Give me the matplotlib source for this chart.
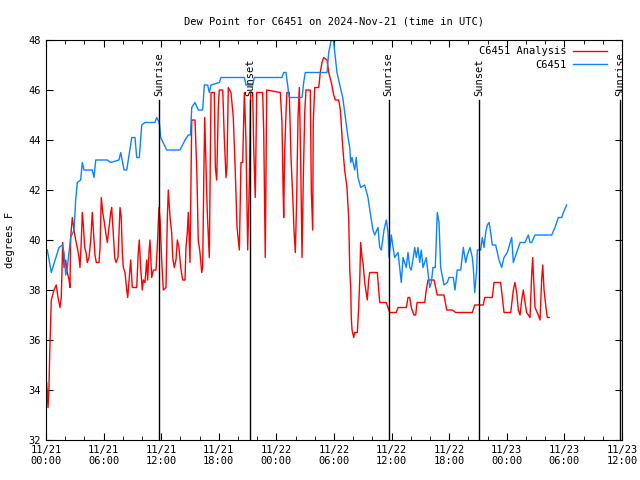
import matplotlib
matplotlib.use("Agg")
import matplotlib.pyplot as plt
import matplotlib.dates as mdates
import pandas as pd

plt.rcParams['font.family'] = 'DejaVu Sans Mono'
plt.rcParams['font.size'] = 7.5

start = pd.Timestamp("2024-11-21 00:00")

# hours after start, dew point (F)
ana_h = [0.07, 0.21, 0.31, 0.39, 0.49, 0.55, 0.83, 1.07, 1.25, 1.46, 1.59, 1.74, 1.88, 2.05, 2.22, 2.40,
         2.50, 2.57, 2.74, 2.92, 3.09, 3.26, 3.44, 3.54, 3.68, 3.78, 3.89, 4.03, 4.17, 4.30, 4.48, 4.66,
         4.82, 5.00, 5.10, 5.24, 5.52, 5.63, 5.76, 5.91, 6.04, 6.22, 6.39, 6.56, 6.74, 6.84, 7.01, 7.16,
         7.29, 7.50, 7.71, 7.84, 7.95, 8.05, 8.23, 8.41, 8.51, 8.68, 8.82, 8.99, 9.45, 9.61, 9.72, 9.86,
         10.03, 10.14, 10.31, 10.49, 10.59, 10.73, 10.83, 11.01, 11.18, 11.46, 11.59, 11.77, 11.88, 12.05,
         12.22, 12.50, 12.64, 12.74, 12.92, 13.09, 13.20, 13.36, 13.54, 13.68, 13.85, 14.03, 14.24, 14.48,
         14.58, 14.72, 14.82, 15.00, 15.18, 15.52, 15.70, 15.86, 16.04, 16.22, 16.32, 16.43, 16.53, 16.67,
         16.80, 17.01, 17.19, 17.53, 17.64, 17.78, 17.95, 18.05, 18.41, 18.57, 18.75, 18.85, 18.99, 19.27,
         19.51, 19.72, 19.90, 20.03, 20.14, 20.31, 20.49, 20.66, 20.83, 21.01, 21.18, 21.32, 21.53, 21.64,
         21.80, 21.95, 22.57, 22.68, 22.78, 22.84, 22.99, 24.41, 24.58, 24.69, 24.76, 24.86, 25.00, 25.10,
         25.34, 25.52, 25.73, 25.83, 25.97, 26.11, 26.25, 26.39, 26.53, 26.67, 26.80, 26.95, 27.08, 27.53,
         27.64, 27.78, 27.84, 27.99, 28.41, 28.57, 28.75, 28.93, 29.27, 29.45, 29.72, 29.97, 30.14, 30.49,
         30.66, 30.91, 31.11, 31.35, 31.53, 31.64, 31.74, 31.80, 31.88, 32.05, 32.16, 32.43, 32.57, 32.68,
         32.78, 32.92, 33.02, 33.20, 33.36, 33.47, 33.61, 33.72, 34.51, 34.66, 34.76, 35.45, 35.63, 35.80,
         36.49, 36.67, 37.53, 37.71, 37.89, 38.05, 38.33, 38.51, 38.65, 39.45, 39.61, 39.79, 40.42, 40.59,
         40.76, 41.46, 41.74, 42.32, 42.68, 44.41, 44.66, 45.55, 45.70, 46.49, 46.67, 47.36, 47.53, 47.71,
         48.41, 48.68, 48.85, 49.03, 49.20, 49.38, 49.55, 49.72, 49.90, 50.07, 50.24, 50.42, 50.59, 50.70,
         50.76, 50.94, 51.28, 51.46, 51.63, 51.74, 51.88, 52.08, 52.22, 52.43]
ana_v = [34.3, 33.3, 34.1, 35.5, 36.9, 37.6, 38.0, 38.2, 37.7, 37.3, 37.7, 39.9, 38.9, 39.2, 38.7, 38.4,
         38.1, 40.1, 40.9, 40.4, 40.0, 39.7, 39.3, 38.9, 40.0, 41.1, 40.6, 39.7, 39.5, 39.1, 39.3, 40.0,
         41.1, 40.0, 39.4, 39.1, 39.1, 39.7, 41.7, 41.1, 40.8, 40.3, 39.9, 40.5, 41.1, 41.3, 40.2, 39.3,
         39.1, 39.3, 41.3, 40.9, 39.5, 38.9, 38.7, 38.0, 37.7, 38.5, 39.2, 38.1, 38.1, 39.5, 40.0, 38.9,
         38.0, 38.4, 38.3, 39.2, 38.4, 39.5, 40.0, 38.5, 38.8, 38.8, 39.7, 41.3, 40.8, 39.2,
         38.0, 38.1, 40.9, 42.0, 40.9, 40.3, 39.3, 38.9, 39.2, 40.0, 39.7, 38.9, 38.4, 38.4,
         39.7, 40.3, 41.1, 39.1, 44.8, 44.8, 42.9, 40.0, 39.5, 38.7, 38.9, 42.3, 44.9, 42.9,
         41.1, 39.3, 45.9, 45.9, 42.9, 42.4, 45.3, 46.0, 46.0, 44.1, 42.5, 42.9, 46.1, 45.9,
         44.9, 42.7, 40.5, 40.0, 39.6, 43.1, 43.1, 45.9, 44.0, 39.6, 42.3, 45.9, 45.9, 43.6,
         41.7, 45.9, 45.9, 44.3, 41.2, 39.3, 46.0, 45.9, 44.7, 42.2, 40.9, 43.5, 45.1, 45.9,
         45.9, 43.3, 41.5, 40.4, 39.5, 41.6, 44.9, 46.1, 43.1, 39.3, 42.4, 45.1, 46.0, 46.0,
         41.9, 40.4, 44.7, 46.1, 46.1, 46.7, 47.1, 47.3, 47.2, 46.7, 46.3, 45.8, 45.6, 45.6,
         45.2, 43.7, 42.8, 42.1, 40.9, 38.8, 38.1, 36.9, 36.4, 36.1, 36.3, 36.3, 37.3, 38.4,
         39.9, 39.3, 39.1, 38.3, 37.9, 37.6, 38.4, 38.7, 38.7, 38.0, 37.5, 37.5, 37.3, 37.1,
         37.1, 37.3, 37.3, 37.7, 37.7, 37.3, 37.0, 37.0, 37.5, 37.5, 38.0, 38.4, 38.4, 38.1,
         37.8, 37.8, 37.2, 37.2, 37.1, 37.1, 37.4, 37.4, 37.7, 37.7, 38.3, 38.3, 37.7, 37.1,
         37.1, 38.0, 38.3, 37.9, 37.2, 37.0, 37.6, 38.0, 37.5, 37.1, 37.0, 36.9, 38.6, 39.3,
         38.7, 37.3, 37.0, 36.8, 38.4, 39.0, 38.0, 37.3, 36.9, 36.9]

obs_h = [0.14, 0.55, 1.35, 1.70, 1.88, 2.05, 2.19, 2.57, 2.92, 3.09, 3.26, 3.61, 3.78, 3.96, 4.82, 5.00,
         5.18, 6.39, 6.74, 7.60, 7.78, 8.13, 8.41, 8.93, 9.27, 9.45, 9.72, 9.97, 10.31, 11.35, 11.53, 11.80,
         11.95, 12.57, 13.96, 14.48, 14.82, 15.05, 15.18, 15.52, 15.86, 16.32, 16.49, 16.84, 17.01, 17.19,
         18.05, 18.23, 20.66, 20.83, 21.53, 21.70, 24.58, 24.76, 25.00, 25.28, 25.34, 26.67, 26.84, 27.01,
         29.27, 29.45, 29.72, 29.84, 29.97, 30.31, 30.66, 30.91, 31.18, 31.46, 31.64, 31.74, 31.88, 32.16,
         32.32, 32.50, 32.78, 33.20, 33.54, 33.89, 34.06, 34.24, 34.58, 34.76, 34.93, 35.21, 35.45, 35.63,
         35.73, 35.97, 36.15, 36.32, 36.67, 36.84, 37.01, 37.19, 37.53, 37.71, 37.89, 38.05, 38.41, 38.57,
         38.75, 38.93, 39.09, 39.27, 39.61, 39.79, 39.97, 40.14, 40.31, 40.55, 40.76, 40.94, 41.11, 41.46,
         41.80, 41.98, 42.43, 42.60, 42.84, 43.20, 43.47, 43.72, 43.89, 44.17, 44.41, 44.51, 44.66, 44.86,
         44.93, 45.28, 45.45, 45.63, 45.80, 45.97, 46.15, 46.32, 46.49, 46.84, 47.19, 47.47, 47.71, 48.05,
         48.51, 48.68, 49.03, 49.38, 49.90, 50.24, 50.42, 50.59, 50.94, 52.68, 53.02, 53.36, 53.72, 53.89,
         54.24]
obs_v = [39.6, 38.7, 39.7, 39.8, 39.5, 38.6, 38.8, 40.1, 40.4, 41.6, 42.3, 42.4, 43.1, 42.8, 42.8, 42.5,
         43.2, 43.2, 43.1, 43.2, 43.5, 42.8, 42.8, 44.1, 44.1, 43.3, 43.3, 44.6, 44.7, 44.7, 44.9, 44.7,
         44.1, 43.6, 43.6, 44.0, 44.2, 44.2, 45.3, 45.5, 45.2, 45.2, 46.2, 46.2, 45.9, 46.2,
         46.3, 46.5, 46.5, 46.2, 46.2, 46.5, 46.5, 46.7, 46.7, 45.9, 45.7, 45.7, 46.3, 46.7,
         46.7, 47.5, 48.0, 48.1, 47.9, 46.7, 46.1, 45.7, 44.9, 44.1, 43.7, 43.1, 43.3, 42.8,
         43.3, 42.5, 42.1, 42.2, 41.7, 40.8, 40.4, 40.2, 40.5, 39.7, 39.6, 40.4, 40.8, 40.3,
         39.3, 40.2, 39.7, 39.3, 39.5, 38.9, 38.3, 39.3, 38.9, 39.5, 38.9, 38.8, 39.7, 39.3,
         39.7, 39.1, 39.6, 38.9, 39.3, 38.7, 38.1, 38.3, 38.9, 38.9, 41.1, 40.7, 38.9, 38.2,
         38.3, 38.5, 38.5, 38.0, 38.8, 38.8, 39.7, 39.1, 39.4, 39.7, 39.3, 38.9, 37.9, 38.8,
         39.6, 39.6, 40.1, 39.7, 40.3, 40.6, 40.7, 40.3, 39.8, 39.8, 39.2, 38.9, 39.3, 39.5,
         40.1, 39.1, 39.5, 39.9, 39.9, 40.2, 39.9, 39.9, 40.2, 40.2, 40.5, 40.9, 40.9, 41.1,
         41.4]

sun_h = [11.8, 21.25, 35.7, 45.1, 59.8]
sun_lbl = ["Sunrise", "Sunset", "Sunrise", "Sunset", "Sunrise"]

ana_t = [start + pd.Timedelta(hours=h) for h in ana_h]
obs_t = [start + pd.Timedelta(hours=h) for h in obs_h]
sun_t = [start + pd.Timedelta(hours=h) for h in sun_h]

fig = plt.figure(figsize=(6.4, 4.8), dpi=100)
ax = fig.add_axes([46/640, 40/480, 576/640, 400/480])

ax.plot(ana_t, ana_v, color='#ff0000', lw=1, label='C6451 Analysis')
ax.plot(obs_t, obs_v, color='#0a84ff', lw=1, label='C6451')

for t, s in zip(sun_t, sun_lbl):
    ax.plot([t, t], [32, 45.6], color='black', lw=1)
    ax.text(t, 45.75, s, rotation=90, ha='center', va='bottom', fontsize=7.5)

ax.set_xlim(start, start + pd.Timedelta(hours=60))
ax.set_ylim(32, 48)
ax.set_yticks(range(32, 49, 2))
ax.xaxis.set_major_locator(mdates.HourLocator(byhour=[0, 6, 12, 18]))
ax.xaxis.set_minor_locator(mdates.HourLocator(byhour=range(0, 24, 2)))
ax.xaxis.set_major_formatter(mdates.DateFormatter('%m/%d\n%H:%M'))
ax.tick_params(which='both', direction='in', top=True, right=True)
ax.tick_params(which='major', length=5)
ax.tick_params(which='minor', length=3)

ax.set_title('Dew Point for C6451 on 2024-Nov-21 (time in UTC)', fontsize=7.5, pad=11)
ax.set_ylabel('degrees F', labelpad=10)

leg = ax.legend(loc='upper right', frameon=False, markerfirst=False, handlelength=3.3,
                borderaxespad=0.2, labelspacing=0.35, handletextpad=0.6, fontsize=7.5,
                bbox_to_anchor=(0.985, 1.0))
for t in leg.get_texts():
    t.set_ha('right')

fig.savefig('out.png', dpi=100)
